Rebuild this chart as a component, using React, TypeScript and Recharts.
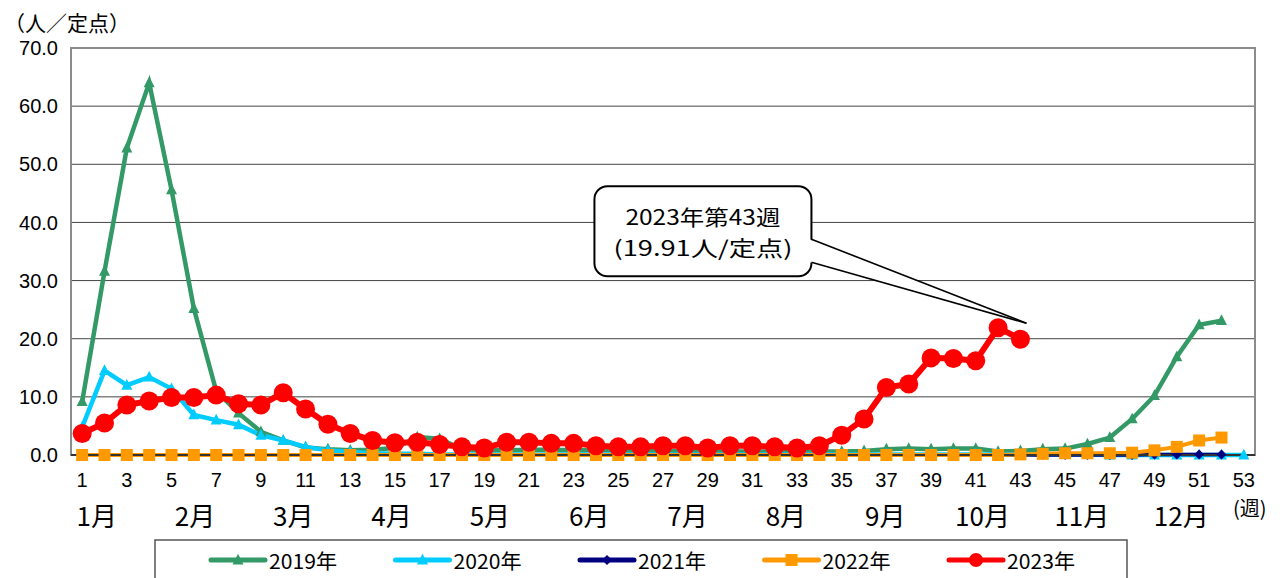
import React from 'react';
import { LineChart, Line, XAxis, YAxis, CartesianGrid, ReferenceArea, ReferenceDot } from 'recharts';

// 週番号（1〜53）
const weeks = Array.from({ length: 53 }, (_, i) => i + 1);
const weekTicks = weeks.filter((w) => w % 2 === 1);
const weekEdges = [0, ...weeks].map((w) => w + 0.5);

// 月ラベル（週軸上の位置）
const monthLabels = ['1月', '2月', '3月', '4月', '5月', '6月', '7月', '8月', '9月', '10月', '11月', '12月'];
const monthPos = [1.65, 6.05, 10.45, 14.85, 19.25, 23.7, 28.1, 32.5, 36.95, 41.3, 45.75, 50.2];

const yTicks = [0, 10, 20, 30, 40, 50, 60, 70];

// 定点当たり報告数
const v2019 = [
  9.2, 31.6, 52.8, 64.0, 45.6, 25.2, 11.0, 7.2, 4.0, 2.5,
  1.3, 1.0, 0.8, 0.9, 1.2, 3.1, 2.8, 1.0, 0.8, 0.8,
  0.9, 0.9, 0.8, 0.8, 0.8, 0.7, 0.7, 0.7, 0.6, 0.6,
  0.6, 0.6, 0.6, 0.6, 0.6, 0.7, 1.0, 1.1, 1.0, 1.1,
  1.1, 0.6, 0.7, 1.0, 1.1, 1.9, 3.0, 6.2, 10.2, 16.9,
  22.4, 23.1,
];
const v2020 = [
  4.8, 14.5, 12.0, 13.4, 11.4, 6.9, 6.0, 5.2, 3.4, 2.5,
  1.4, 0.8, 0.5, 0.3, 0.2, 0.2, 0.1, 0.1, 0.1, 0.1,
  0.1, 0.1, 0.1, 0.1, 0.1, 0.1, 0.1, 0.1, 0.1, 0.1,
  0.1, 0.1, 0.1, 0.1, 0.1, 0.1, 0.1, 0.1, 0.1, 0.1,
  0.1, 0.1, 0.1, 0.1, 0.1, 0.1, 0.0, 0.0, 0.0, 0.0,
  0.0, 0.0, 0.0,
];
const v2021 = [
  0.0, 0.0, 0.0, 0.0, 0.0, 0.0, 0.0, 0.0, 0.0, 0.0,
  0.0, 0.0, 0.0, 0.0, 0.0, 0.0, 0.0, 0.0, 0.0, 0.0,
  0.0, 0.0, 0.0, 0.0, 0.0, 0.0, 0.0, 0.0, 0.0, 0.0,
  0.0, 0.0, 0.0, 0.0, 0.0, 0.0, 0.0, 0.0, 0.0, 0.0,
  0.0, 0.0, 0.0, 0.0, 0.0, 0.0, 0.0, 0.0, 0.1, 0.1,
  0.1, 0.1,
];
const v2022 = [
  0.0, 0.0, 0.0, 0.0, 0.0, 0.0, 0.0, 0.0, 0.0, 0.0,
  0.0, 0.0, 0.0, 0.0, 0.0, 0.0, 0.0, 0.0, 0.0, 0.0,
  0.0, 0.0, 0.0, 0.0, 0.0, 0.0, 0.0, 0.0, 0.0, 0.0,
  0.0, 0.0, 0.0, 0.0, 0.0, 0.0, 0.0, 0.0, 0.0, 0.0,
  0.0, 0.0, 0.1, 0.2, 0.3, 0.3, 0.3, 0.4, 0.8, 1.4,
  2.5, 3.0,
];
const v2023 = [
  3.7, 5.5, 8.6, 9.3, 9.9, 9.9, 10.3, 8.8, 8.6, 10.7,
  7.9, 5.3, 3.7, 2.5, 2.1, 2.2, 1.8, 1.4, 1.2, 2.2,
  2.2, 2.0, 2.0, 1.6, 1.4, 1.4, 1.6, 1.6, 1.2, 1.6,
  1.6, 1.4, 1.2, 1.6, 3.4, 6.2, 11.6, 12.2, 16.7, 16.6,
  16.2, 21.9, 19.91,
];

type Shape = 'triangle' | 'diamond' | 'square' | 'circle';

const series: { key: string; name: string; values: number[]; color: string; shape: Shape; size: number; width: number }[] = [
  { key: 'y2019', name: '2019年', values: v2019, color: '#339966', shape: 'triangle', size: 5.5, width: 4.5 },
  { key: 'y2020', name: '2020年', values: v2020, color: '#00ccff', shape: 'triangle', size: 5.5, width: 4.5 },
  { key: 'y2021', name: '2021年', values: v2021, color: '#000080', shape: 'diamond', size: 5, width: 3.5 },
  { key: 'y2022', name: '2022年', values: v2022, color: '#ff9900', shape: 'square', size: 6, width: 4 },
  { key: 'y2023', name: '2023年', values: v2023, color: '#ff0000', shape: 'circle', size: 9.5, width: 6 },
];

const data = weeks.map((w, i) => {
  const row: Record<string, number | undefined> = { week: w };
  series.forEach((s) => {
    row[s.key] = s.values[i];
  });
  return row;
});

const JP = '"Noto Sans CJK JP", "Noto Sans", sans-serif';
const NUM = '"Liberation Sans", Arial, sans-serif';

function Marker({ shape, cx, cy, color, size }: { shape: Shape; cx: number; cy: number; color: string; size: number }) {
  if (shape === 'triangle')
    return <path d={`M${cx},${cy - size * 1.15}L${cx + size},${cy + size * 0.8}L${cx - size},${cy + size * 0.8}Z`} fill={color} />;
  if (shape === 'diamond')
    return <path d={`M${cx},${cy - size}L${cx + size},${cy}L${cx},${cy + size}L${cx - size},${cy}Z`} fill={color} />;
  if (shape === 'square') return <rect x={cx - size} y={cy - size} width={size * 2} height={size * 2} fill={color} />;
  return <circle cx={cx} cy={cy} r={size} fill={color} />;
}

const dotFor = (s: (typeof series)[number]) => (p: any) => {
  const k = `${s.key}-${p.index}`;
  if (p.cx == null || p.cy == null || p.value == null) return <g key={k} />;
  return (
    <g key={k}>
      <Marker shape={s.shape} cx={p.cx} cy={p.cy} color={s.color} size={s.size} />
    </g>
  );
};

// 吹き出し（第43週の値を指す）
const Callout = (p: any) => {
  const { cx, cy } = p;
  if (cx == null || cy == null) return <g />;
  const bx = cx - 426;
  const by = cy - 153;
  const bw = 217;
  const bh = 90;
  const r = 13;
  const tipX = cx + 6;
  const tipY = cy - 16;
  const rootX = bx + bw;
  const tx = bx + bw / 2;
  return (
    <g>
      <rect x={bx} y={by} width={bw} height={bh} rx={r} ry={r} fill="#fff" stroke="#000" strokeWidth={2} />
      <polygon points={`${rootX - 2},${cy - 100} ${tipX},${tipY} ${rootX - 2},${cy - 77}`} fill="#fff" />
      <line x1={rootX} y1={cy - 100} x2={tipX} y2={tipY} stroke="#000" strokeWidth={1.6} />
      <line x1={rootX} y1={cy - 77} x2={tipX} y2={tipY} stroke="#000" strokeWidth={1.6} />
      <text x={tx} y={cy - 123} textAnchor="middle" dominantBaseline="central" fontFamily={JP} fontSize={21} fill="#000" textLength={155} lengthAdjust="spacingAndGlyphs">
        2023年第43週
      </text>
      <text x={tx} y={cy - 92} textAnchor="middle" dominantBaseline="central" fontFamily={JP} fontSize={21} fill="#000" textLength={179} lengthAdjust="spacingAndGlyphs">
        (19.91人/定点)
      </text>
    </g>
  );
};

function LegendBox() {
  return (
    <svg width={974} height={40} style={{ position: 'absolute', left: 154, top: 539 }}>
      <rect x={1} y={1} width={972} height={40} fill="#fff" stroke="#555" strokeWidth={1.5} />
      {series.map((s, i) => {
        const x0 = 57 + i * 184.5;
        return (
          <g key={s.key}>
            <line x1={x0} y1={21} x2={x0 + 54} y2={21} stroke={s.color} strokeWidth={5} strokeLinecap="round" />
            <Marker shape={s.shape} cx={x0 + 27} cy={21} color={s.color} size={s.shape === 'circle' ? 7 : s.size} />
            <text x={x0 + 58} y={21} dominantBaseline="central" fontFamily={JP} fontSize={20} fill="#000" textLength={68} lengthAdjust="spacingAndGlyphs">
              {s.name}
            </text>
          </g>
        );
      })}
    </svg>
  );
}

export default function App() {
  return (
    <div style={{ position: 'absolute', left: 0, top: 0, width: 1280, height: 578, background: '#fff', overflow: 'hidden' }}>
      <div style={{ position: 'absolute', left: 4, top: 8, fontFamily: JP, fontSize: 21, lineHeight: '28px', color: '#000', whiteSpace: 'nowrap' }}>（人／定点）</div>
      <div style={{ position: 'absolute', left: 1233, top: 494, fontFamily: JP, fontSize: 20, lineHeight: '28px', color: '#000', whiteSpace: 'nowrap' }}>(週)</div>
      <LineChart width={1280} height={578} data={data} margin={{ top: 48, right: 25, left: 0, bottom: 0 }}>
        <CartesianGrid horizontal vertical={false} stroke="#444" strokeWidth={1} xAxisId="b" />
        <ReferenceArea xAxisId="b" x1={0.5} x2={53.5} y1={0} y2={70} fill="none" stroke="#8c8c8c" strokeWidth={2} ifOverflow="visible" />
        <XAxis
          xAxisId="a"
          dataKey="week"
          type="number"
          domain={[0.5, 53.5]}
          ticks={weekEdges}
          interval={0}
          mirror
          tick={false}
          tickSize={5}
          tickLine={{ stroke: '#333' }}
          axisLine={false}
          height={0}
          allowDataOverflow
        />
        <XAxis
          xAxisId="b"
          dataKey="week"
          type="number"
          domain={[0.5, 53.5]}
          ticks={weekTicks}
          interval={0}
          tickLine={false}
          tickSize={0}
          tickMargin={18}
          axisLine={{ stroke: '#333', strokeWidth: 2 }}
          tick={{ fontSize: 20, fill: '#000', fontFamily: NUM }}
          height={45}
          allowDataOverflow
        />
        <XAxis
          xAxisId="c"
          dataKey="week"
          type="number"
          domain={[0.5, 53.5]}
          ticks={monthPos}
          interval={0}
          tickFormatter={(v: number) => monthLabels[monthPos.indexOf(v)] ?? ''}
          tickLine={false}
          tickSize={0}
          tickMargin={8}
          axisLine={false}
          tick={{ fontSize: 26, fill: '#000', fontFamily: JP }}
          height={78}
          allowDataOverflow
        />
        <YAxis
          domain={[0, 70]}
          ticks={yTicks}
          interval={0}
          width={71}
          axisLine={false}
          tickLine={false}
          tickSize={0}
          tickMargin={13}
          tickFormatter={(v: number) => v.toFixed(1)}
          tick={{ fontSize: 20, fill: '#000', fontFamily: NUM }}
        />
        {series.map((s) => (
          <Line
            key={s.key}
            xAxisId="b"
            type="linear"
            dataKey={s.key}
            name={s.name}
            stroke={s.color}
            strokeWidth={s.width}
            dot={dotFor(s)}
            activeDot={false}
            isAnimationActive={false}
          />
        ))}
        <ReferenceDot xAxisId="b" x={43} y={19.91} r={0} ifOverflow="visible" shape={Callout} />
      </LineChart>
      <LegendBox />
    </div>
  );
}
